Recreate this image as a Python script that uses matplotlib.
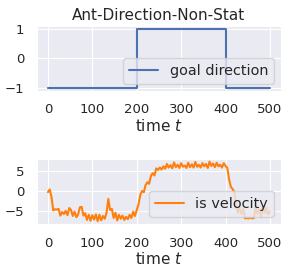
### Ant-Direction-Non-Stat: goal direction and velocity over time
import matplotlib
matplotlib.use('Agg')
import matplotlib.pyplot as plt
import seaborn as sns
import numpy as np

### Data
goal_time = [0, 200, 400, 500]
goal_dir = [-1, 1, -1, -1]

vel_time = list(range(0, 501, 4))
velocity = [
    -0.3, 0.4, -1.5, -4.9, -4.6, -4.7, -4.5, -6.2, -5.3, -5.8,
    -5.0, -6.1, -4.3, -4.8, -6.3, -5.2, -6.6, -5.9, -4.1, -4.0,
    -6.2, -5.6, -7.3, -6.0, -7.5, -6.1, -7.2, -5.9, -7.6, -6.0,
    -7.4, -6.3, -7.0, -5.5, -2.0, -4.8, -4.5, -6.8, -5.5, -7.4,
    -6.0, -7.0, -6.2, -7.3, -6.5, -7.1, -6.0, -6.8, -5.2, -6.3,
    -4.8, -3.4, -1.0, 0.0, -0.3, 1.5, 2.2, 1.8, 3.8, 4.5,
    3.9, 5.7, 5.3, 5.9, 5.4, 6.2, 5.6, 6.8, 5.9, 6.5,
    5.7, 7.2, 6.0, 6.6, 5.8, 7.0, 6.1, 6.4, 5.8, 7.1,
    6.0, 6.7, 5.9, 7.3, 6.1, 6.6, 5.9, 7.0, 6.2, 6.8,
    5.8, 7.4, 6.3, 6.9, 6.0, 7.1, 6.2, 6.6, 5.9, 7.0,
    6.3, 5.8, 3.0, 1.0, 0.5, -0.4, -3.8, -5.5, -4.2, -5.8,
    -4.5, -6.9, -6.8, -6.9, -6.7, -6.9, -6.8, -4.0, -5.8, -4.3,
    -6.5, -4.0, -5.5, -4.2, -5.9, -5.2,
]

### Style
sns.set_style('darkgrid')
plt.rcParams['font.family'] = ['DejaVu Sans']

fig = plt.figure(figsize=(2.9, 2.73), dpi=100)

## Top panel
ax1 = fig.add_axes([0.127, 0.667, 0.842, 0.238])
ax1.step(goal_time, goal_dir, where='post', color='#4c72b0', lw=1.5,
         label='goal direction')
ax1.set_title('Ant-Direction-Non-Stat', fontsize=11, pad=4)
ax1.set_xlabel('time $t$', fontsize=11, labelpad=1)
ax1.set_xticks([0, 100, 200, 300, 400, 500])
ax1.tick_params(labelsize=9.5, pad=5.5)
ax1.legend(loc='lower right', fontsize=10.4, handlelength=2.0)

## Bottom panel
ax2 = fig.add_axes([0.127, 0.179, 0.842, 0.240])
ax2.plot(vel_time, velocity, color='#ff7f0e', lw=1.5, label='is velocity')
ax2.set_xlabel('time $t$', fontsize=11, labelpad=1)
ax2.set_xticks([0, 100, 200, 300, 400, 500])
ax2.set_yticks([-5, 0, 5])
ax2.tick_params(labelsize=9.5, pad=5.5)
ax2.legend(loc='lower right', fontsize=10.4, handlelength=2.0)

fig.savefig('out.png', dpi=100)
